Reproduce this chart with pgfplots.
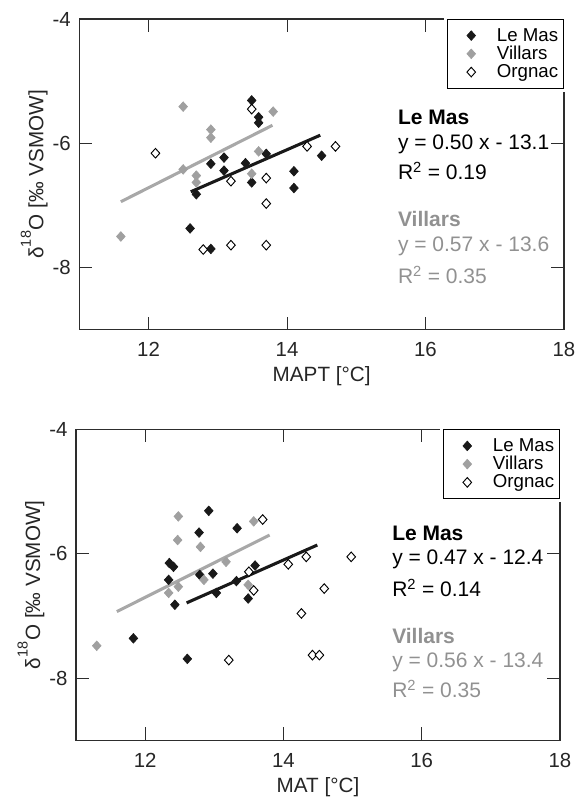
\documentclass[border=0pt]{standalone}
\usepackage{pgfplots}
\pgfplotsset{compat=1.18}
\usepackage{fontspec}
\setmainfont{Liberation Sans}
\definecolor{lemas}{RGB}{25,25,25}
\definecolor{villars}{RGB}{160,160,160}
\definecolor{villline}{RGB}{168,168,168}
\definecolor{villtext}{RGB}{145,145,145}
\definecolor{axcol}{RGB}{45,45,45}
\newcommand\annfont{\fontsize{15.75}{19}\selectfont}

\pgfplotsset{
  myaxis/.style={
    scale only axis,
    clip=false,
    xmin=11, xmax=18, ymin=-9, ymax=-4,
    xtick={12,14,16,18}, xticklabels={12,14,16,18},
    ytick={-8,-6,-4}, yticklabels={-8,-6,-4},
    minor tick num=0,
    tick align=inside,
    major tick length=9.75pt,
    every tick/.style={axcol, line width=0.75pt},
    axis line style={axcol, line width=0.9pt},
    tick label style={font=\fontsize{15.3}{18}\selectfont, text=black!85},
    xticklabel style={anchor=base, yshift=-20.25pt, inner sep=0pt},
    yticklabel style={anchor=east, xshift=-6.2pt, inner sep=0pt},
    label style={font=\fontsize{15.5}{18}\selectfont, text=black!85, inner sep=0pt},
    xlabel style={at={(axis description cs:0.5,0)}, anchor=base, yshift=-39pt},
    ylabel style={at={(axis description cs:-0.0743,0.5)}, anchor=base},
    ylabel={δ\raisebox{0.5ex}{\textsuperscript{18}}O [‰ VSMOW]},
    legend style={at={(rel axis cs:1,1)}, anchor=north east, draw=black, line width=0.75pt,
      fill=white, font=\fontsize{14}{16}\selectfont, inner xsep=2pt, inner ysep=4.5pt,
      row sep=-1.75pt, cells={anchor=west},
      preaction={draw=white, line width=5pt}},
    legend image code/.code={\path (-13.5pt,0pt) (14.75pt,0pt);
      \draw[#1] plot coordinates {(0pt,0pt)};},
  },
  lemasmark/.style={only marks, mark=diamond*, mark size=3.6pt, color=lemas,
      mark options={xscale=1.2, solid, fill=lemas, draw=lemas, line width=0.5pt}},
  villmark/.style={only marks, mark=diamond*, mark size=3.6pt, color=villars,
      mark options={xscale=1.2, solid, fill=villars, draw=villars, line width=0.5pt}},
  orgmark/.style={only marks, mark=diamond*, mark size=3.6pt, color=black,
      mark options={xscale=1.2, solid, fill=white, draw=black, line width=0.7pt}},
}

\begin{document}
\begin{tikzpicture}
\useasboundingbox (0,0) rectangle (431.25pt,597.75pt);

% ---------- top panel ----------
\begin{axis}[myaxis, at={(59.48pt,350.48pt)}, anchor=south west,
  width=363.5pt, height=233pt, xlabel={MAPT [°C]}]
\addplot[villline, line width=2.3pt, no marks, forget plot] coordinates {(11.60,-6.94) (13.79,-5.71)};
\addplot[lemas, line width=2.3pt, no marks, forget plot] coordinates {(12.61,-6.78) (14.48,-5.87)};
\addplot[lemasmark] coordinates {
(13.49,-5.31) (13.59,-5.58) (13.59,-5.67) (13.70,-6.17) (13.09,-6.23) (12.90,-6.33)
(13.40,-6.32) (13.09,-6.44) (13.49,-6.63) (14.10,-6.45) (14.10,-6.72) (14.50,-6.20)
(12.69,-6.82) (12.60,-7.37) (12.90,-7.70)};
\addlegendentry{Le Mas}
\addplot[villmark] coordinates {
(12.50,-5.41) (13.80,-5.49) (12.90,-5.78) (12.90,-5.91) (13.59,-6.13) (12.50,-6.42)
(12.69,-6.52) (12.69,-6.63) (13.49,-6.49) (11.60,-7.50)};
\addlegendentry{Villars}
\addplot[orgmark] coordinates {
(13.49,-5.45) (12.10,-6.16) (14.29,-6.05) (14.70,-6.05) (13.19,-6.61) (13.70,-6.56)
(13.70,-6.97) (12.79,-7.71) (13.19,-7.64) (13.70,-7.64)};
\addlegendentry{Orgnac}
\node[anchor=base west, inner sep=0pt, font=\annfont\bfseries] at (axis cs:15.60,-5.694) {Le Mas};
\node[anchor=base west, inner sep=0pt, font=\annfont] at (axis cs:15.60,-6.10) {y = 0.50 x - 13.1};
\node[anchor=base west, inner sep=0pt, font=\annfont] at (axis cs:15.60,-6.59) {R\textsuperscript{2} = 0.19};
\node[anchor=base west, inner sep=0pt, font=\annfont\bfseries, text=villtext] at (axis cs:15.60,-7.34) {Villars};
\node[anchor=base west, inner sep=0pt, font=\annfont, text=villtext] at (axis cs:15.60,-7.74) {y = 0.57 x - 13.6};
\node[anchor=base west, inner sep=0pt, font=\annfont, text=villtext] at (axis cs:15.60,-8.25) {R\textsuperscript{2} = 0.35};
\end{axis}

% ---------- bottom panel ----------
\begin{axis}[myaxis, at={(57pt,42.5pt)}, anchor=south west,
  width=363pt, height=233.25pt, xlabel={MAT [°C]}]
\addplot[villline, line width=2.3pt, no marks, forget plot] coordinates {(11.59,-6.93) (13.80,-5.70)};
\addplot[lemas, line width=2.3pt, no marks, forget plot] coordinates {(12.60,-6.79) (14.49,-5.86)};
\addplot[lemasmark] coordinates {
(12.92,-5.31) (13.33,-5.59) (12.78,-5.66) (12.35,-6.15) (12.41,-6.21) (13.59,-6.19)
(12.79,-6.34) (12.98,-6.32) (12.34,-6.42) (13.32,-6.44) (13.03,-6.63) (13.49,-6.72)
(12.43,-6.82) (11.83,-7.36) (12.61,-7.69)};
\addlegendentry{Le Mas}
\addplot[villmark] coordinates {
(12.48,-5.40) (13.57,-5.48) (12.47,-5.78) (12.80,-5.89) (13.17,-6.13) (12.85,-6.42)
(12.48,-6.53) (12.34,-6.63) (13.49,-6.50) (11.30,-7.48)};
\addlegendentry{Villars}
\addplot[orgmark] coordinates {
(13.70,-5.45) (13.50,-6.29) (13.57,-6.59) (14.07,-6.17) (14.33,-6.05) (14.98,-6.05)
(14.59,-6.56) (14.26,-6.96) (13.21,-7.71) (14.42,-7.63) (14.52,-7.63)};
\addlegendentry{Orgnac}
\node[anchor=base west, inner sep=0pt, font=\annfont\bfseries] at (axis cs:15.57,-5.79) {Le Mas};
\node[anchor=base west, inner sep=0pt, font=\annfont] at (axis cs:15.57,-6.18) {y = 0.47 x - 12.4};
\node[anchor=base west, inner sep=0pt, font=\annfont] at (axis cs:15.57,-6.69) {R\textsuperscript{2} = 0.14};
\node[anchor=base west, inner sep=0pt, font=\annfont\bfseries, text=villtext] at (axis cs:15.57,-7.44) {Villars};
\node[anchor=base west, inner sep=0pt, font=\annfont, text=villtext] at (axis cs:15.57,-7.83) {y = 0.56 x - 13.4};
\node[anchor=base west, inner sep=0pt, font=\annfont, text=villtext] at (axis cs:15.57,-8.31) {R\textsuperscript{2} = 0.35};
\end{axis}
\end{tikzpicture}
\end{document}
